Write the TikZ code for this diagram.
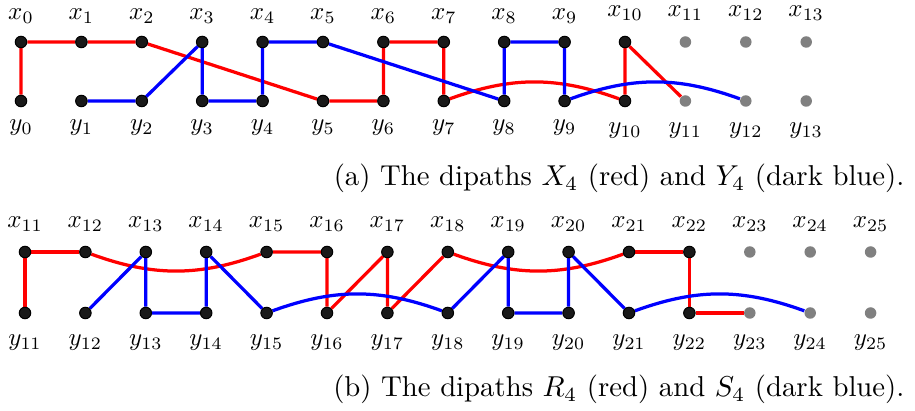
\documentclass[tikz,border=0pt]{standalone}
\usetikzlibrary{backgrounds}
\begin{document}
\begin{tikzpicture}[x=0.4pt,y=-0.4pt,
  dot/.style={circle, fill=black!90, draw=black, line width=0.4pt, inner sep=0pt, minimum size=4.6pt},
  gdot/.style={circle, fill=gray, inner sep=0pt, minimum size=4.6pt},
  redpath/.style={red, line width=1.3pt},
  bluepath/.style={blue, line width=1.3pt},
  lab/.style={anchor=base, inner sep=0pt},
  captext/.style={anchor=base east, inner sep=0pt, scale=1.15}]
\useasboundingbox (0,0) rectangle (915,411);
% ---- top picture ----
\foreach \i in {0,...,10} {
  \node[dot] (tx\i) at ({21+60.4*\i},42) {};
  \node[dot] (ty\i) at ({21+60.4*\i},101) {};
}
\foreach \i in {11,12,13} {
  \node[gdot] (tx\i) at ({21+60.4*\i},42) {};
  \node[gdot] (ty\i) at ({21+60.4*\i},101) {};
}
\foreach \i in {0,...,9} {
  \node[lab] (ltx\i) at ({21+60.4*\i},20) {$x_{\i}$};
  \node[lab] (lty\i) at ({21+60.4*\i},131) {$y_{\i}$};
}
\foreach \i in {10,...,13} {
  \node[lab] (ltx\i) at ({21+60.4*\i},17) {$x_{\i}$};
  \node[lab] (lty\i) at ({21+60.4*\i},134) {$y_{\i}$};
}
% ---- bottom picture ----
\foreach \i in {11,...,22} {
  \node[dot] (bx\i) at ({25+60.4*(\i-11)},252) {};
  \node[dot] (by\i) at ({25+60.4*(\i-11)},313) {};
}
\foreach \i in {23,24,25} {
  \node[gdot] (bx\i) at ({25+60.4*(\i-11)},252) {};
  \node[gdot] (by\i) at ({25+60.4*(\i-11)},313) {};
}
\foreach \i in {11,...,25} {
  \node[lab] (lbx\i) at ({25+60.4*(\i-11)},228) {$x_{\i}$};
  \node[lab] (lby\i) at ({25+60.4*(\i-11)},346) {$y_{\i}$};
}
% ---- captions ----
\node[captext] (capa) at (905,186) {(a) The dipaths $X_4$ (red) and $Y_4$ (dark blue).};
\node[captext] (capb) at (905,397) {(b) The dipaths $R_4$ (red) and $S_4$ (dark blue).};
% ---- paths ----
\begin{scope}[on background layer]
\draw[redpath] (ty0) -- (tx0) -- (tx1) -- (tx2) -- (ty5) -- (ty6) -- (tx6) -- (tx7) -- (ty7);
\draw[redpath] (ty7) to[bend left=20] (ty10);
\draw[redpath] (ty10) -- (tx10) -- (ty11);
\draw[bluepath] (ty1) -- (ty2) -- (tx3) -- (ty3) -- (ty4) -- (tx4) -- (tx5) -- (ty8) -- (tx8) -- (tx9) -- (ty9);
\draw[bluepath] (ty9) to[bend left=20] (ty12);
\draw[redpath] (by11) -- (bx11) -- (bx12);
\draw[redpath] (bx12) to[bend right=20] (bx15);
\draw[redpath] (bx15) -- (bx16) -- (by16) -- (bx17) -- (by17) -- (bx18);
\draw[redpath] (bx18) to[bend right=20] (bx21);
\draw[redpath] (bx21) -- (bx22) -- (by22) -- (by23);
\draw[bluepath] (by12) -- (bx13) -- (by13) -- (by14) -- (bx14) -- (by15);
\draw[bluepath] (by15) to[bend left=20] (by18);
\draw[bluepath] (by18) -- (bx19) -- (by19) -- (by20) -- (bx20) -- (by21);
\draw[bluepath] (by21) to[bend left=20] (by24);
\end{scope}
\end{tikzpicture}
\end{document}
